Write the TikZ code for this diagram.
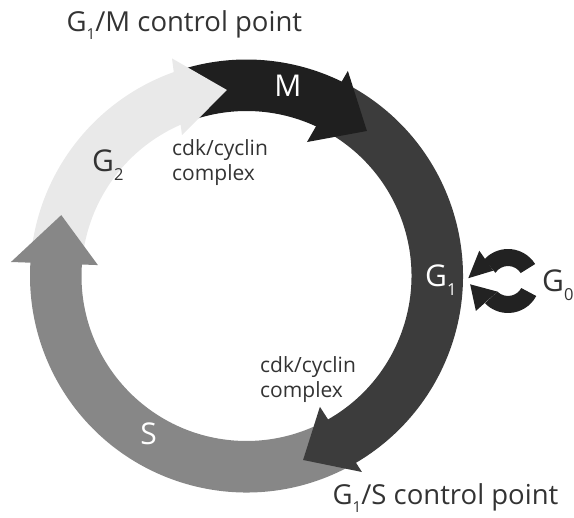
\documentclass[tikz,border=0pt]{standalone}
\usepackage{fontspec}
\setmainfont{Open Sans}
\usepackage{graphicx}
\definecolor{cM}{HTML}{1F1F1F}
\definecolor{cGone}{HTML}{3C3C3C}
\definecolor{cS}{HTML}{878787}
\definecolor{cGtwo}{HTML}{E9E9E9}
\definecolor{cIcon}{HTML}{222222}
\definecolor{cTxt}{HTML}{333333}
\newcommand\subdig[1]{\raisebox{-0.28em}{\scalebox{0.55}{#1}}}
\tikzset{
  biglab/.style={inner sep=0pt, font=\fontsize{30}{30}\selectfont},
  titlelab/.style={inner sep=0pt, anchor=base west, text=cTxt, font=\fontsize{27.5}{27.5}\selectfont},
  smalllab/.style={inner sep=0pt, anchor=base west, text=cTxt, align=left, font=\fontsize{21}{25}\selectfont}
}
\begin{document}
\begin{tikzpicture}[x=1pt,y=1pt]
\useasboundingbox (-246.5,-242) rectangle (327.5,276);
\def\Ro{216.5}
\def\Ri{165}
% shafts
\fill[cGone] (62.8:\Ro) arc[start angle=62.8,end angle=-61.0,radius=\Ro] -- (-61.8:\Ri) arc[start angle=-61.8,end angle=64.0,radius=\Ri] -- cycle;
\fill[cS] (-61.0:\Ro) arc[start angle=-61.0,end angle=-185.0,radius=\Ro] -- (-185.4:\Ri) arc[start angle=-185.4,end angle=-61.8,radius=\Ri] -- cycle;
\fill[cGtwo] (175.0:\Ro) arc[start angle=175.0,end angle=108.4,radius=\Ro] -- (112.3:\Ri) arc[start angle=112.3,end angle=174.6,radius=\Ri] -- cycle;
\fill[cM] (108.4:\Ro) arc[start angle=108.4,end angle=62.8,radius=\Ro] -- (64.0:\Ri) arc[start angle=64.0,end angle=112.3,radius=\Ri] -- cycle;
% heads
\fill[cM] (63.7:228.8) -- (50.3:188.5) -- (65.7:147) -- cycle;
\fill[cGone] (-59.5:227.5) -- (-72.9:192.5) -- (-60.7:150) -- cycle;
\fill[cS] (176.6:236) -- (161.8:195) -- (175.8:149) -- cycle;
\fill[cGtwo] (108.9:230) -- (96:187) -- (114.6:155) -- cycle;
% G0 icon
\begin{scope}[shift={(261.5,-5)}]
  \fill[cIcon] (32:32) arc[start angle=32,end angle=138,radius=32] -- (147:15) arc[start angle=147,end angle=32,radius=15] -- cycle;
  \fill[cIcon] (133.5:41.7) -- (176:39.8) -- (145:18) -- cycle;
  \fill[cIcon] (-28:32) arc[start angle=-28,end angle=-136,radius=32] -- (-135:15) arc[start angle=-135,end angle=-28,radius=15] -- cycle;
  \fill[cIcon] (223:43.9) -- (185:38) -- (225:15) -- cycle;
\end{scope}
% labels
\node[biglab, text=white, anchor=center] (lM) at (41.5,190) {M};
\node[biglab, text=cTxt, anchor=base west] (lGtwo) at (-154.5,104) {G\subdig{2}};
\node[biglab, text=white, anchor=base west] (lGone) at (178.5,-11) {G\subdig{1}};
\node[biglab, text=cTxt, anchor=base west] (lGzero) at (295.5,-16) {G\subdig{0}};
\node[biglab, text=white, anchor=center] (lS) at (-98,-157.5) {S};
\node[titlelab] (tM) at (-180,244.3) {G\subdig{1}/M control point};
\node[titlelab] (tS) at (86,-229) {G\subdig{1}/S control point};
\node[smalllab] (cA) at (-74.5,95) {cdk/cyclin\\complex};
\node[smalllab] (cB) at (13.5,-122) {cdk/cyclin\\complex};
\end{tikzpicture}
\end{document}
